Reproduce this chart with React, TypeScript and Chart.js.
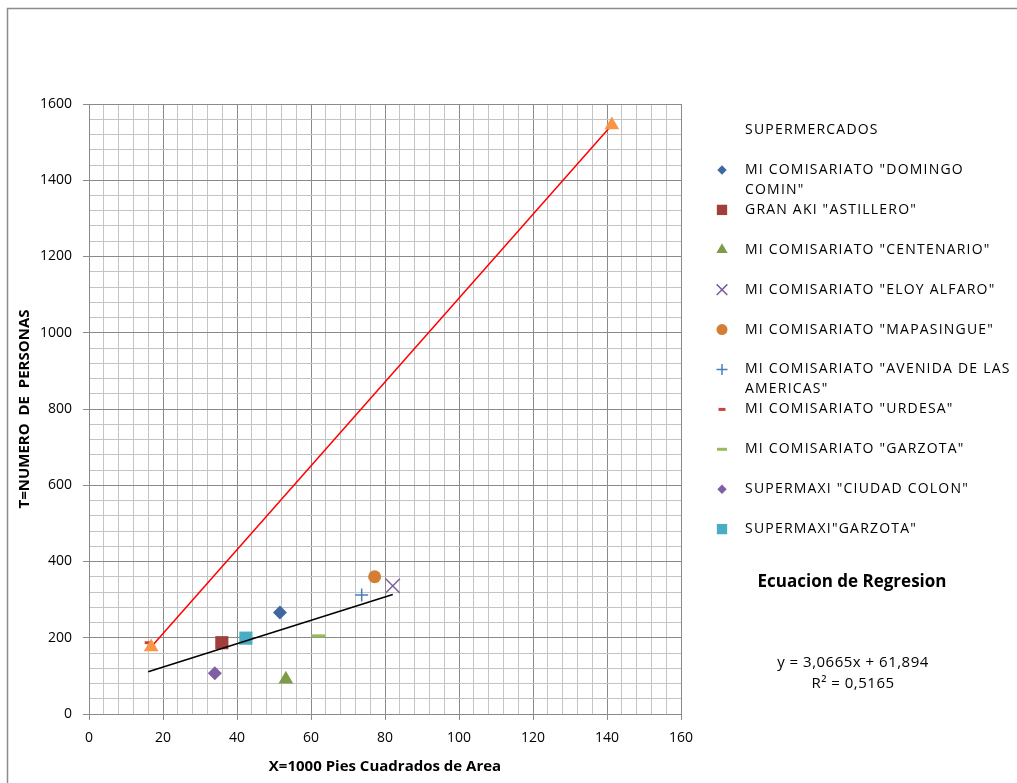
import React, { useEffect, useRef } from 'react';
import { Chart, registerables } from 'chart.js';
import { drawPoint } from 'chart.js/helpers';

Chart.register(...registerables);

const legendTitle = 'SUPERMERCADOS';
const seriesNames = [
  'MI COMISARIATO "DOMINGO COMIN"',
  'GRAN AKI "ASTILLERO"',
  'MI COMISARIATO "CENTENARIO"',
  'MI COMISARIATO "ELOY ALFARO"',
  'MI COMISARIATO "MAPASINGUE"',
  'MI COMISARIATO "AVENIDA DE LAS AMERICAS"',
  'MI COMISARIATO "URDESA"',
  'MI COMISARIATO "GARZOTA"',
  'SUPERMAXI "CIUDAD COLON"',
  'SUPERMAXI"GARZOTA"',
];
const legendLines = [
  ['MI COMISARIATO "DOMINGO', 'COMIN"'],
  ['GRAN AKI "ASTILLERO"'],
  ['MI COMISARIATO "CENTENARIO"'],
  ['MI COMISARIATO "ELOY ALFARO"'],
  ['MI COMISARIATO "MAPASINGUE"'],
  ['MI COMISARIATO "AVENIDA DE LAS', 'AMERICAS"'],
  ['MI COMISARIATO "URDESA"'],
  ['MI COMISARIATO "GARZOTA"'],
  ['SUPERMAXI "CIUDAD COLON"'],
  ['SUPERMAXI"GARZOTA"'],
];
const areaValues = [51.6, 35.9, 53.2, 82.1, 77.2, 73.7, 16.0, 62.0, 34.0, 42.4];
const personValues = [266, 187, 91, 336, 360, 312, 187, 205, 107, 199];
const seriesColors = [
  '#3F68A3', '#A03F3C', '#7E9C48', '#7B5F9E', '#D47D35',
  '#4A7EBB', '#C8433F', '#9BBB59', '#7F5FA1', '#4BACC6',
];
const seriesStyles = ['rectRot', 'rect', 'triangle', 'crossRot', 'circle', 'cross', 'line', 'line', 'rectRot', 'rect'];

const regressionSlope = 3.0665;
const regressionIntercept = 61.894;
const equationText = 'y = 3,0665x + 61,894';
const r2Text = 'R² = 0,5165';
const equationTitle = 'Ecuacion de Regresion';

const redLineX = [16.8, 141.3];
const redLineY = [176, 1545];

const xTitle = 'X=1000 Pies Cuadrados de Area';
const yTitle = 'T=NUMERO  DE  PERSONAS';

const FONT = '"Open Sans", "DejaVu Sans", sans-serif';

const pointRadii: Record<string, number> = { rectRot: 7, rect: 9.3, triangle: 8.5, crossRot: 10, circle: 6.5, cross: 6.5, line: 7 };
const legendRadii: Record<string, number> = { rectRot: 4.7, rect: 7.3, triangle: 6.5, crossRot: 7.5, circle: 5.5, cross: 5.5, line: 5 };

export default function App() {
  const ref = useRef<HTMLCanvasElement | null>(null);

  useEffect(() => {
    document.body.style.margin = '0';
    const canvas = ref.current;
    if (!canvas) return;

    const minX = Math.min(...areaValues);
    const maxX = Math.max(...areaValues);

    const scatterSets = seriesNames.map((name, i) => {
      const style = seriesStyles[i];
      const isLine = style === 'line';
      const isStroke = style === 'cross' || style === 'crossRot' || isLine;
      return {
        label: name,
        data: [{ x: areaValues[i], y: personValues[i] }],
        showLine: false,
        pointStyle: style,
        pointRadius: pointRadii[style],
        pointBackgroundColor: seriesColors[i],
        pointBorderColor: seriesColors[i],
        pointBorderWidth: isLine ? 3 : isStroke ? 1.5 : 0,
        order: 10 + i,
      };
    });
    scatterSets[6].pointRadius = 3.5;

    const chart = new Chart(canvas, {
      type: 'scatter',
      data: {
        datasets: [
          {
            label: 'red',
            data: redLineX.map((x, i) => ({ x, y: redLineY[i] })),
            showLine: true,
            borderColor: '#FF0000',
            borderWidth: 1.5,
            pointStyle: 'triangle',
            pointRadius: 8.5,
            pointBackgroundColor: '#F79646',
            pointBorderColor: '#F79646',
            pointBorderWidth: 0,
            order: 1,
          } as any,
          {
            label: 'trend',
            data: [minX, maxX].map((x) => ({ x, y: regressionSlope * x + regressionIntercept })),
            showLine: true,
            borderColor: '#000000',
            borderWidth: 1.5,
            pointRadius: 0,
            order: 0,
          } as any,
          ...scatterSets,
        ],
      },
      options: {
        responsive: true,
        maintainAspectRatio: false,
        animation: false,
        layout: { padding: { left: 0, top: 104, right: 336, bottom: 0 } },
        plugins: {
          legend: { display: false },
          tooltip: { enabled: false },
        },
        scales: {
          x: {
            type: 'linear',
            min: 0,
            max: 160,
            afterFit: (s: any) => { s.height = 69; },
            ticks: {
              stepSize: 4,
              autoSkip: false,
              maxRotation: 0,
              padding: 10,
              color: '#000',
              font: { family: FONT, size: 14 },
              callback: (v: any) => (Math.round(v) % 20 === 0 ? String(Math.round(v)) : ''),
            },
            grid: {
              color: (c: any) => (Math.round(c.tick?.value ?? 0) % 20 === 0 ? '#8a8a8a' : '#c4c4c4'),
              tickColor: (c: any) => (Math.round(c.tick?.value ?? 0) % 20 === 0 ? '#8a8a8a' : 'rgba(0,0,0,0)'),
              tickLength: 6,
              lineWidth: 1,
            },
            border: { color: '#8a8a8a', width: 1 },
            title: {
              display: true,
              text: xTitle,
              color: '#000',
              font: { family: FONT, size: 15, weight: 'bold' },
              padding: { top: 0, bottom: 7 },
            },
          },
          y: {
            type: 'linear',
            min: 0,
            max: 1600,
            afterFit: (s: any) => { s.width = 89; },
            ticks: {
              stepSize: 40,
              autoSkip: false,
              padding: 11,
              color: '#000',
              font: { family: FONT, size: 14 },
              callback: (v: any) => (Math.round(v) % 200 === 0 ? String(Math.round(v)) : ''),
            },
            grid: {
              color: (c: any) => (Math.round(c.tick?.value ?? 0) % 200 === 0 ? '#8a8a8a' : '#c4c4c4'),
              tickColor: (c: any) => (Math.round(c.tick?.value ?? 0) % 200 === 0 ? '#8a8a8a' : 'rgba(0,0,0,0)'),
              tickLength: 6,
              lineWidth: 1,
            },
            border: { color: '#8a8a8a', width: 1 },
            title: {
              display: true,
              text: yTitle,
              color: '#000',
              font: { family: FONT, size: 15, weight: 'bold' },
              padding: { top: 16, bottom: 0 },
            },
          },
        },
      },
      plugins: [
        {
          id: 'frameAndLegend',
          beforeDraw(ch: any) {
            const ctx = ch.ctx;
            ctx.save();
            ctx.fillStyle = '#ffffff';
            ctx.fillRect(0, 0, ch.width, ch.height);
            ctx.strokeStyle = '#8c8c8c';
            ctx.lineWidth = 1.5;
            ctx.strokeRect(7.5, 8.5, ch.width + 50, ch.height + 50);
            ctx.restore();
          },
          afterDraw(ch: any) {
            const ctx = ch.ctx;
            ctx.save();
            ctx.fillStyle = '#000';
            ctx.textBaseline = 'middle';
            ctx.textAlign = 'left';
            ctx.font = `14px ${FONT}`;
            (ctx as any).letterSpacing = '1.2px';
            ctx.fillText(legendTitle, 745, 130);
            legendLines.forEach((lines, i) => {
              const y = 170 + 39.9 * i;
              const style = seriesStyles[i];
              const isLine = style === 'line';
              const isStroke = style === 'cross' || style === 'crossRot' || isLine;
              ctx.fillStyle = seriesColors[i];
              ctx.strokeStyle = seriesColors[i];
              const bw = isLine ? 3 : isStroke ? 1.5 : 0.01;
              ctx.lineWidth = bw;
              let r = legendRadii[style];
              if (i === 6) r = 3.5;
              drawPoint(ctx, { pointStyle: style, rotation: 0, borderWidth: bw, radius: r } as any, 722, y);
              ctx.fillStyle = '#000';
              lines.forEach((t, j) => ctx.fillText(t, 745, y + j * 20));
            });
            (ctx as any).letterSpacing = '0px';
            ctx.textAlign = 'center';
            ctx.font = `bold 17px ${FONT}`;
            ctx.fillText(equationTitle, 852, 582);
            ctx.font = `15px ${FONT}`;
            (ctx as any).letterSpacing = '0.5px';
            ctx.fillText(equationText, 853, 663);
            ctx.fillText(r2Text, 853, 684);
            ctx.restore();
          },
        },
      ],
    } as any);

    return () => chart.destroy();
  }, []);

  return (
    <div style={{ position: 'relative', width: 1017, height: 783 }}>
      <canvas ref={ref} style={{ display: 'block' }} />
    </div>
  );
}
